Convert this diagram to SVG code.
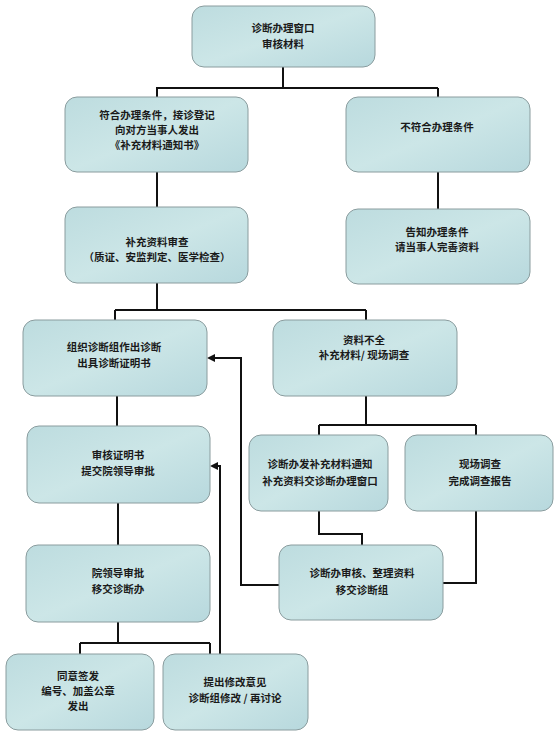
<svg xmlns="http://www.w3.org/2000/svg" width="556" height="735" viewBox="0 0 556 735">
<defs>
<linearGradient id="g" x1="0" y1="0" x2="1" y2="1">
<stop offset="0" stop-color="#bddcdf"/>
<stop offset="0.5" stop-color="#cce6e7"/>
<stop offset="1" stop-color="#b7d8dd"/>
</linearGradient>
<style>
.box{fill:url(#g);stroke:#8a9c9e;stroke-width:1}
.t{font-family:"Noto Sans CJK SC","Noto Sans",sans-serif;font-size:10.5px;font-weight:bold;fill:#1a1a1a;text-anchor:middle}
.c{fill:none;stroke:#111;stroke-width:2}
.ah{fill:#111}
</style>
</defs>
<rect width="556" height="735" fill="#fff"/>
<g id="connectors">
<path class="c" d="M283,67 V88 M156,88 H438 M157,88 V97 M438,88 V97"/>
<path class="c" d="M438,172 V209"/>
<path class="c" d="M157,172 V207"/>
<path class="c" d="M157,283 V310 M115,310 H366 M115,310 V320 M366,310 V320"/>
<path class="c" d="M366,396 V425 M319,425 H476 M319,425 V435 M476,425 V435"/>
<path class="c" d="M319,511 V534 H362 V545"/>
<path class="c" d="M476,511 V583 H443"/>
<path class="c" d="M279,585 H241 V358 H214"/>
<polygon class="ah" points="207,358 215,354 215,362"/>
<path class="c" d="M220,654 V466 H216"/>
<polygon class="ah" points="210,466 218,462 218,470"/>
<path class="c" d="M117,396 V426"/>
<path class="c" d="M118,503 V545"/>
<path class="c" d="M118,622 V643 M80,643 H210 M80,643 V654 M210,643 V654"/>
</g>
<g id="n1"><rect class="box" x="192" y="6" width="183" height="61" rx="12"/>
<text class="t" x="283" y="32">诊断办理窗口</text><text class="t" x="283" y="48">审核材料</text></g>
<g id="n2"><rect class="box" x="65" y="97" width="183" height="75" rx="12"/>
<text class="t" x="157" y="119">符合办理条件，接诊登记</text><text class="t" x="157" y="134">向对方当事人发出</text><text class="t" x="157" y="149">《补充材料通知书》</text></g>
<g id="n3"><rect class="box" x="346" y="97" width="184" height="75" rx="12"/>
<text class="t" x="437" y="131">不符合办理条件</text></g>
<g id="n4"><rect class="box" x="346" y="209" width="184" height="75" rx="12"/>
<text class="t" x="437" y="236">告知办理条件</text><text class="t" x="437" y="251">请当事人完善资料</text></g>
<g id="n5"><rect class="box" x="65" y="207" width="183" height="76" rx="12"/>
<text class="t" x="157" y="246">补充资料审查</text><text class="t" x="157" y="261">（质证、安监判定、医学检查）</text></g>
<g id="n6"><rect class="box" x="23" y="320" width="184" height="76" rx="12"/>
<text class="t" x="114" y="351">组织诊断组作出诊断</text><text class="t" x="114" y="367">出具诊断证明书</text></g>
<g id="n7"><rect class="box" x="273" y="320" width="184" height="76" rx="12"/>
<text class="t" x="364" y="344">资料不全</text><text class="t" x="364" y="359">补充材料/ 现场调查</text></g>
<g id="n8"><rect class="box" x="249" y="435" width="139" height="76" rx="12"/>
<text class="t" x="320" y="468">诊断办发补充材料通知</text><text class="t" x="320" y="485">补充资料交诊断办理窗口</text></g>
<g id="n9"><rect class="box" x="405" y="435" width="148" height="76" rx="12"/>
<text class="t" x="480" y="468">现场调查</text><text class="t" x="480" y="485">完成调查报告</text></g>
<g id="n10"><rect class="box" x="279" y="545" width="164" height="75" rx="12"/>
<text class="t" x="362" y="577">诊断办审核、整理资料</text><text class="t" x="362" y="594">移交诊断组</text></g>
<g id="n11"><rect class="box" x="27" y="426" width="183" height="77" rx="12"/>
<text class="t" x="118" y="459">审核证明书</text><text class="t" x="118" y="475">提交院领导审批</text></g>
<g id="n13"><rect class="box" x="26" y="545" width="184" height="77" rx="12"/>
<text class="t" x="118" y="577">院领导审批</text><text class="t" x="118" y="593">移交诊断办</text></g>
<g id="n14"><rect class="box" x="6" y="654" width="148" height="76" rx="12"/>
<text class="t" x="78" y="680">同意签发</text><text class="t" x="78" y="695">编号、加盖公章</text><text class="t" x="78" y="710">发出</text></g>
<g id="n12"><rect class="box" x="163" y="654" width="145" height="76" rx="12"/>
<text class="t" x="235" y="686">提出修改意见</text><text class="t" x="235" y="702">诊断组修改 / 再讨论</text></g>
</svg>
